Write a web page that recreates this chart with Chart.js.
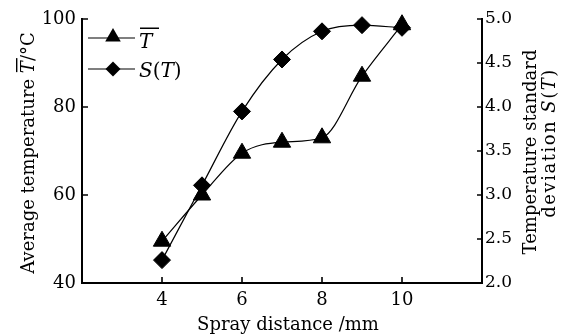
<!DOCTYPE html>
<html>
<head>
<meta charset="utf-8">
<script src="https://cdn.jsdelivr.net/npm/chart.js@4.4.1/dist/chart.umd.min.js"></script>
<style>
  body { margin: 0; background: #fff; }
</style>
</head>
<body>
<canvas id="sprayChart" width="570" height="336"></canvas>
<script>
// Spray distance (mm) and the two measured series
const distances = [4, 5, 6, 7, 8, 9, 10];
const avgTemp = [49.5, 60, 69.5, 72, 73, 87, 98.7];
const stdDev = [2.26, 3.11, 3.95, 4.54, 4.86, 4.93, 4.9];

// Tick labels of the three axes
const xTicks = [4, 6, 8, 10];
const tempTicks = [40, 60, 80, 100];
const sdTicks = [2.0, 2.5, 3.0, 3.5, 4.0, 4.5, 5.0];

const FONT = '"DejaVu Serif", serif';

// Draws a line of text made of pieces (some italic, some with overline)
function drawRich(ctx, parts, x, y, size, rotate, spacing) {
    ctx.save();
    ctx.translate(x, y);
    if (rotate) ctx.rotate(-Math.PI / 2);
    if (spacing) ctx.letterSpacing = spacing + 'px';
    const fontOf = p => (p.italic ? 'italic ' : '') + size + 'px ' + FONT;
    let total = 0;
    parts.forEach(p => { ctx.font = fontOf(p); total += ctx.measureText(p.text).width; });
    let cx = -total / 2;
    ctx.fillStyle = '#000';
    ctx.textAlign = 'left';
    ctx.textBaseline = 'alphabetic';
    parts.forEach(p => {
        ctx.font = fontOf(p);
        const w = ctx.measureText(p.text).width;
        ctx.fillText(p.text, cx, 0);
        if (p.over) ctx.fillRect(cx + 1, -size * 1.0, w + 2, 1.4);
        cx += w;
    });
    ctx.restore();
}

function marker(ctx, style, x, y, r) {
    ctx.beginPath();
    if (style === 'triangle') {
        for (let i = 0; i < 3; i++) {
            const a = i * 2 * Math.PI / 3;
            ctx.lineTo(x + Math.sin(a) * r, y - Math.cos(a) * r);
        }
    } else {
        ctx.moveTo(x - r, y); ctx.lineTo(x, y - r); ctx.lineTo(x + r, y); ctx.lineTo(x, y + r);
    }
    ctx.closePath();
    ctx.fill();
}

// Inward tick marks, axis titles and legend
const extras = {
    id: 'extras',
    afterDraw(chart) {
        const ctx = chart.ctx;
        const a = chart.chartArea;
        const sx = chart.scales.x, sy = chart.scales.y, sy1 = chart.scales.y1;
        ctx.save();
        ctx.strokeStyle = '#000';
        ctx.lineWidth = 1.6;
        ctx.beginPath();
        xTicks.forEach(v => {
            const p = sx.getPixelForValue(v);
            ctx.moveTo(p, a.bottom); ctx.lineTo(p, a.bottom - 6);
        });
        tempTicks.forEach(v => {
            const p = sy.getPixelForValue(v);
            ctx.moveTo(a.left, p); ctx.lineTo(a.left + 6, p);
        });
        sdTicks.forEach(v => {
            const p = sy1.getPixelForValue(v);
            ctx.moveTo(a.right, p); ctx.lineTo(a.right - 5, p);
        });
        ctx.stroke();

        // axis titles
        drawRich(ctx, [{ text: 'Spray distance /mm' }], 288, 330, 18, false);
        drawRich(ctx, [{ text: 'Average temperature ' }, { text: 'T', italic: true, over: true }, { text: '/°C' }],
            34, 153, 18, true);
        drawRich(ctx, [{ text: 'Temperature standard' }], 536, 152, 18, true);
        drawRich(ctx, [{ text: 'deviation ' }, { text: 'S', italic: true }, { text: '(' }, { text: 'T', italic: true }, { text: ')' }],
            555, 143, 18, true, 1.5);

        // legend
        ctx.lineWidth = 1.2;
        ctx.fillStyle = '#000';
        [[38, 'triangle', 9], [69, 'diamond', 7.5]].forEach(([y, st, r]) => {
            ctx.beginPath();
            ctx.moveTo(88, y); ctx.lineTo(135, y);
            ctx.stroke();
            marker(ctx, st, 113, st === 'triangle' ? y - 1 : y, r);
        });
        ctx.textAlign = 'left';
        ctx.font = 'italic 20px ' + FONT;
        ctx.fillText('T', 139, 48);
        ctx.fillRect(140, 27.5, 19, 1.5);
        let cx = 139;
        [['S', true], ['(', false], ['T', true], [')', false]].forEach(([t, it]) => {
            ctx.font = (it ? 'italic ' : '') + '20px ' + FONT;
            ctx.fillText(t, cx, 77);
            cx += ctx.measureText(t).width;
        });
        ctx.restore();
    }
};

document.addEventListener("DOMContentLoaded", function () {
    const ctx = document.getElementById('sprayChart').getContext('2d');

    new Chart(ctx, {
        type: 'line',
        data: {
            datasets: [{
                label: 'T',
                data: distances.map((d, i) => ({ x: d, y: avgTemp[i] })),
                yAxisID: 'y',
                borderColor: '#000',
                backgroundColor: '#000',
                borderWidth: 1.2,
                pointStyle: 'triangle',
                pointRadius: 10,
                pointBorderWidth: 1,
                cubicInterpolationMode: 'monotone',
                clip: false
            }, {
                label: 'S(T)',
                data: distances.map((d, i) => ({ x: d, y: stdDev[i] })),
                yAxisID: 'y1',
                borderColor: '#000',
                backgroundColor: '#000',
                borderWidth: 1.2,
                pointStyle: 'rectRot',
                pointRadius: 8.5,
                pointBorderWidth: 1,
                cubicInterpolationMode: 'monotone',
                clip: false
            }]
        },
        options: {
            responsive: false,
            animation: false,
            events: [],
            layout: { padding: { top: 19, bottom: 0, left: 0, right: 0 } },
            plugins: { legend: { display: false }, tooltip: { enabled: false } },
            scales: {
                x: {
                    type: 'linear', min: 2, max: 12,
                    afterBuildTicks: s => { s.ticks = xTicks.map(v => ({ value: v })); },
                    afterFit: s => { s.height = 53; },
                    grid: { display: false, drawTicks: false },
                    border: { display: true, color: '#000', width: 2 },
                    ticks: { color: '#000', padding: 7, font: { family: FONT, size: 18 } }
                },
                y: {
                    position: 'left', min: 40, max: 100,
                    afterBuildTicks: s => { s.ticks = tempTicks.map(v => ({ value: v })); },
                    afterFit: s => { s.width = 82; },
                    grid: { display: false, drawTicks: false },
                    border: { display: true, color: '#000', width: 2 },
                    ticks: { color: '#000', padding: 6, font: { family: FONT, size: 18 } }
                },
                y1: {
                    position: 'right', min: 2, max: 5,
                    afterBuildTicks: s => { s.ticks = sdTicks.map(v => ({ value: v })); },
                    afterFit: s => { s.width = 88; },
                    grid: { display: false, drawTicks: false },
                    border: { display: true, color: '#000', width: 2 },
                    ticks: { color: '#000', padding: 3, font: { family: FONT, size: 17 },
                        callback: v => v.toFixed(1) }
                }
            }
        },
        plugins: [extras]
    });
});
</script>
</body>
</html>
